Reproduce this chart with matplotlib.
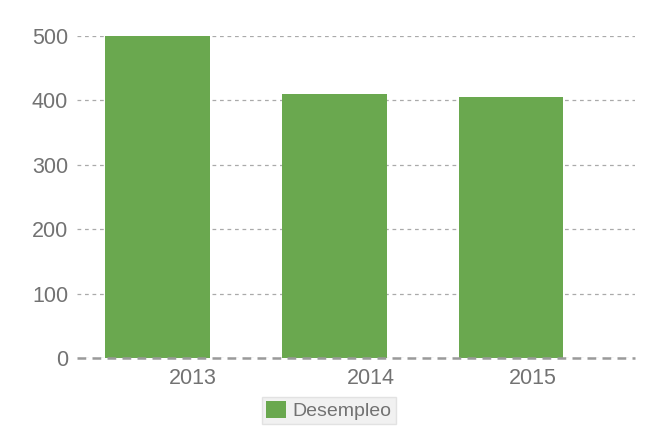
import matplotlib
matplotlib.use("Agg")
import matplotlib.pyplot as plt
from matplotlib.patches import Patch

# datos
years = ["2013", "2014", "2015"]
desempleo = [500, 410, 406]
y_ticks = [0, 100, 200, 300, 400, 500]

plt.rcParams['font.family'] = ['Liberation Sans', 'DejaVu Sans']

verde = '#6aa84f'
gris_texto = '#727272'

fig = plt.figure(figsize=(6.71, 4.47), dpi=100)
ax = fig.add_axes([0.1148, 0.1984, 0.8315, 0.7211])

x = list(range(len(years)))
ax.bar(x, desempleo, width=0.59, color=verde, zorder=2)

# las etiquetas del eje x no quedan centradas en las barras en el original
ax.set_xticks([0.20, 1.206, 2.124])
ax.set_xticklabels(years)
ax.set_xlim(-0.455, 2.70)
ax.set_ylim(0, 500)
ax.set_yticks(y_ticks)

ax.tick_params(axis='both', length=0, labelsize=15.5, labelcolor=gris_texto)
ax.tick_params(axis='y', pad=6.5)
ax.tick_params(axis='x', pad=7)

ax.yaxis.grid(True, color='#aaaaaa', linewidth=0.9, linestyle=(0, (3, 3)), zorder=0)
ax.set_axisbelow(True)
ax.axhline(0, color='#9a9a9a', linewidth=1.8, linestyle=(0, (3.5, 2.5)), zorder=3, clip_on=False)

for s in ax.spines.values():
    s.set_visible(False)

handle = Patch(facecolor=verde, edgecolor='none')
leg = fig.legend([handle], ['Desempleo'], loc='center',
                 bbox_to_anchor=(329 / 671, 1 - 410.5 / 447),
                 fontsize=14, frameon=True, fancybox=False,
                 handlelength=1.0, handleheight=1.0, handletextpad=0.35,
                 borderpad=0.2, borderaxespad=0)
leg.get_frame().set_facecolor('#eeeeee')
leg.get_frame().set_edgecolor('#dddddd')
leg.get_frame().set_linewidth(1)
for t in leg.get_texts():
    t.set_color(gris_texto)

fig.savefig('out.png', dpi=100)
